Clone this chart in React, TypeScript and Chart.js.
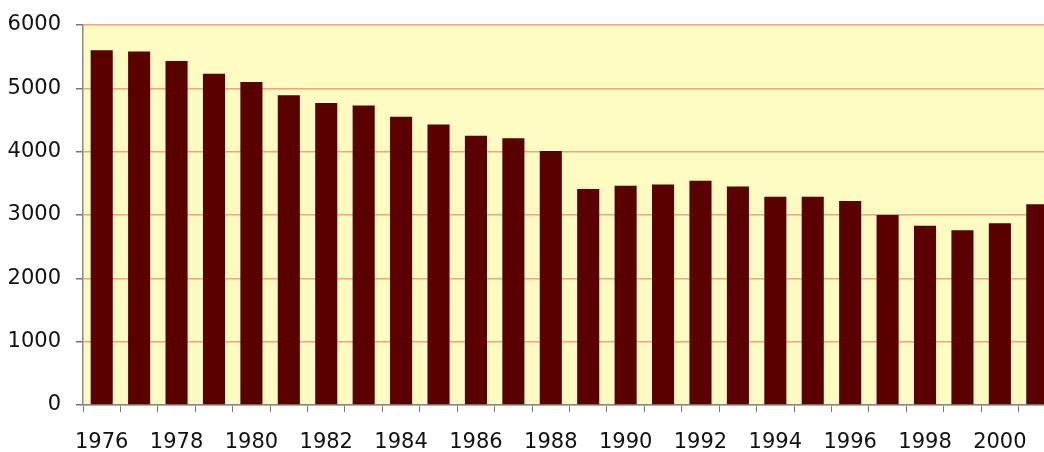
import React, { useEffect, useRef } from "react";
import { Chart, registerables } from "chart.js";

Chart.register(...registerables);

const years: string[] = [
  "1976", "1977", "1978", "1979", "1980", "1981", "1982", "1983", "1984",
  "1985", "1986", "1987", "1988", "1989", "1990", "1991", "1992", "1993",
  "1994", "1995", "1996", "1997", "1998", "1999", "2000", "2001",
];

const values: number[] = [
  5600, 5580, 5430, 5230, 5100, 4890, 4770, 4730, 4550,
  4430, 4250, 4210, 4010, 3410, 3460, 3480, 3540, 3450,
  3290, 3290, 3220, 3000, 2830, 2760, 2870, 3170,
];

const yTicks: number[] = [0, 1000, 2000, 3000, 4000, 5000, 6000];

const plotBg = {
  id: "plotBg",
  beforeDraw(chart: any) {
    const { ctx, chartArea } = chart;
    if (!chartArea) return;
    ctx.save();
    ctx.fillStyle = "#fcfbc2";
    ctx.fillRect(
      chartArea.left,
      chartArea.top,
      chartArea.right - chartArea.left,
      chartArea.bottom - chartArea.top
    );
    ctx.restore();
  },
};

export default function App() {
  const ref = useRef<HTMLCanvasElement | null>(null);

  useEffect(() => {
    if (!ref.current) return;
    const font = { family: "'DejaVu Sans', Verdana, sans-serif", size: 21 };
    const chart = new Chart(ref.current, {
      type: "bar",
      data: {
        labels: years,
        datasets: [
          {
            data: values,
            backgroundColor: "#5a0000",
            borderWidth: 0,
            categoryPercentage: 1,
            barPercentage: 0.59,
          },
        ],
      },
      options: {
        animation: false,
        responsive: false,
        maintainAspectRatio: false,
        layout: { padding: { top: 25, left: 0, right: 0, bottom: 0 } },
        plugins: {
          legend: { display: false },
          tooltip: { enabled: false },
        },
        scales: {
          x: {
            offset: true,
            grid: {
              offset: true,
              drawOnChartArea: false,
              drawTicks: true,
              tickLength: 7,
              tickColor: "#777777",
            },
            border: { color: "#888888", width: 1.5 },
            ticks: {
              autoSkip: false,
              maxRotation: 0,
              padding: 18,
              color: "#111111",
              font,
              callback: (_v: any, i: number) => (i % 2 === 0 ? years[i] : ""),
            },
            afterFit: (scale: any) => {
              scale.height = 47;
            },
          },
          y: {
            min: 0,
            max: 6000,
            afterBuildTicks: (scale: any) => {
              scale.ticks = yTicks.map((v) => ({ value: v }));
            },
            grid: {
              color: "#eca67e",
              lineWidth: 1.5,
              drawTicks: true,
              tickLength: 7,
              tickColor: "#777777",
            },
            border: { color: "#888888", width: 1.5 },
            ticks: {
              padding: 15,
              color: "#111111",
              font,
              callback: (v: any) => String(v),
            },
            afterFit: (scale: any) => {
              scale.width = 83;
              scale.paddingTop = 0;
            },
          },
        },
      },
      plugins: [plotBg],
    });
    return () => chart.destroy();
  }, []);

  return (
    <div
      style={{
        position: "absolute",
        left: 0,
        top: 0,
        width: 1044,
        height: 452,
        overflow: "hidden",
        background: "#ffffff",
      }}
    >
      <canvas ref={ref} width={1056} height={452} style={{ width: 1056, height: 452 }} />
    </div>
  );
}
